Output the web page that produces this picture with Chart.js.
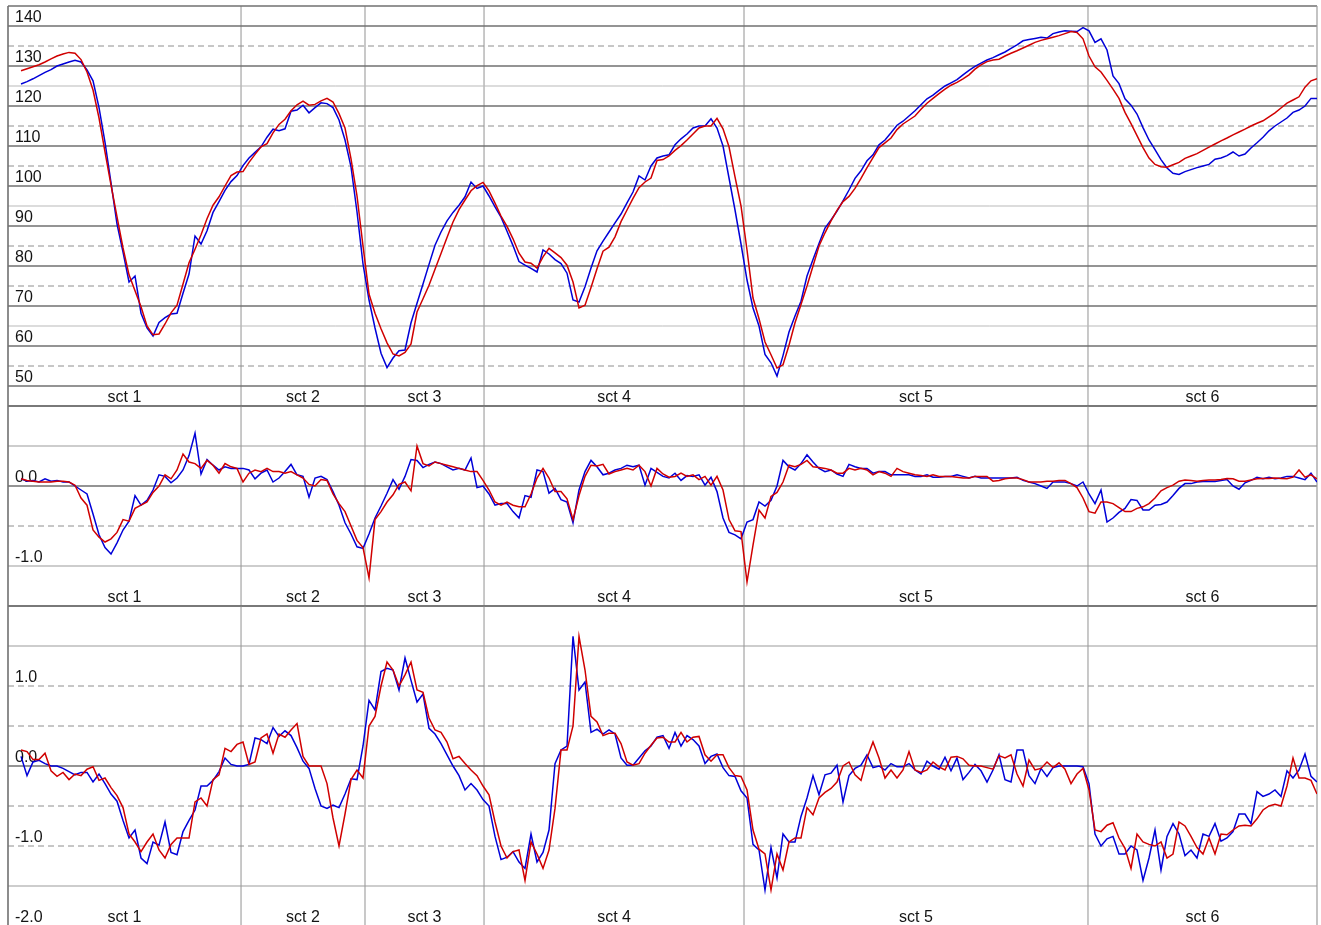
<!DOCTYPE html>
<html>
<head>
<meta charset="utf-8">
<script src="https://cdn.jsdelivr.net/npm/chart.js@4.4.0/dist/chart.umd.min.js"></script>
<style>
html,body{margin:0;padding:0;background:#ffffff;overflow:hidden;width:1321px;height:925px;}
canvas{position:absolute;left:0;}
</style>
</head>
<body>
<canvas id="c1" width="1321" height="410" style="top:0px"></canvas>
<canvas id="c2" width="1321" height="208" style="top:402px"></canvas>
<canvas id="c3" width="1321" height="328" style="top:602px"></canvas>
<script>
// ---------- DATA ----------
const sections = ['sct 1', 'sct 2', 'sct 3', 'sct 4', 'sct 5', 'sct 6'];
// section boundaries in sample-index units
const sectionBounds = [-2.17, 36.67, 57.33, 77.17, 120.5, 177.83, 216];

// panel 1 (level)
const p1Ticks = [140, 130, 120, 110, 100, 90, 80, 70, 60, 50];
const p1TickLabels = ['140', '130', '120', '110', '100', '90', '80', '70', '60', '50'];
const p1Red = [
128.8,129.3,129.8,130.3,131.0,131.8,132.5,133.0,133.4,133.2,
131.6,128.5,124.0,117.0,108.5,100.2,92.3,84.5,77.8,73.8,
69.8,65.0,62.8,63.0,65.5,68.3,70.2,75.5,80.8,84.2,
87.8,91.8,95.2,97.3,100.0,102.6,103.5,103.6,105.9,107.9,
109.8,110.6,113.3,115.4,116.7,118.8,120.3,121.2,120.2,120.4,
121.3,121.9,121.0,118.1,114.5,106.8,97.5,85.0,73.0,68.2,
64.3,60.8,58.0,57.5,58.4,60.5,68.5,71.8,75.2,79.2,
83.1,87.1,91.0,94.1,96.5,98.8,100.1,100.9,98.8,95.7,
92.5,89.9,86.8,83.2,81.0,80.7,79.5,82.3,84.4,83.3,
82.1,80.2,76.0,69.5,70.2,74.6,79.3,83.7,84.7,87.3,
91.1,94.0,96.9,99.6,101.0,102.0,106.4,106.6,107.5,108.9,
110.1,111.5,113.0,114.5,115.0,115.0,116.9,114.3,109.8,102.3,
95.0,84.0,72.0,66.8,61.0,57.8,54.5,55.3,60.2,65.8,
70.4,75.0,80.0,85.0,88.3,91.3,93.9,96.1,97.4,99.4,
101.9,104.6,107.1,109.6,110.8,112.0,114.1,115.5,116.5,117.5,
119.2,120.7,121.9,123.1,124.2,125.2,125.9,126.8,127.8,129.2,
130.3,131.1,131.5,131.7,132.5,133.2,133.8,134.5,135.2,135.9,
136.4,136.8,137.2,137.6,138.1,138.6,138.4,136.8,132.5,129.8,
128.5,126.4,124.2,121.9,118.4,115.6,112.6,109.6,107.0,105.4,
104.8,104.7,105.3,105.9,106.9,107.5,108.1,108.9,109.7,110.5,
111.3,112.0,112.8,113.5,114.2,115.0,115.7,116.3,117.3,118.3,
119.5,120.7,121.5,122.3,124.7,126.3,126.8
];
const p1Blue = [
125.5,126.1,126.8,127.6,128.4,129.1,130.0,130.5,131.0,131.4,
131.0,129.0,126.3,119.6,110.9,100.8,90.5,83.5,76.0,77.5,
68.2,64.5,62.5,65.9,67.1,68.0,68.2,73.2,78.0,87.5,
85.5,88.8,93.4,96.1,98.9,101.1,102.6,105.1,107.0,108.4,
109.8,112.2,114.2,113.8,114.3,118.7,119.0,120.2,118.3,119.6,
120.8,120.6,119.6,116.5,111.5,104.8,93.5,80.5,71.5,64.5,
58.2,54.6,57.0,58.8,59.0,65.8,70.7,75.5,80.4,85.2,
88.5,91.3,93.4,95.2,97.3,101.0,99.4,100.0,97.5,94.8,
92.2,88.7,85.1,81.1,80.2,79.4,78.5,84.0,83.0,81.6,
80.6,78.2,71.5,71.0,74.8,79.5,83.8,86.2,88.5,90.8,
93.0,95.8,98.5,102.5,101.5,105.0,107.0,107.5,107.8,110.3,
111.8,113.0,114.5,115.0,115.0,116.8,114.5,110.0,102.0,94.0,
85.5,76.5,69.5,65.0,57.9,55.8,52.5,57.6,63.5,67.5,
71.2,77.5,81.6,85.6,89.5,91.5,93.7,96.3,99.0,101.9,
103.8,106.3,107.8,110.3,111.5,113.3,115.2,116.2,117.5,118.8,
120.3,121.8,122.7,123.9,125.0,125.8,126.6,127.8,128.9,129.9,
130.7,131.5,132.1,132.8,133.5,134.4,135.3,136.3,136.6,136.9,
137.2,137.0,138.1,138.5,138.8,138.7,138.6,139.6,138.8,135.9,
136.8,134.0,127.5,125.6,121.8,120.2,118.0,114.6,111.5,109.1,
106.6,104.5,103.2,102.9,103.6,104.1,104.6,105.0,105.4,106.7,
107.0,107.6,108.5,107.5,108.0,109.5,110.8,112.2,113.8,115.0,
116.0,117.0,118.4,119.0,120.0,121.9,121.9
];

// panel 2
const p2Ticks = [0, -1];
const p2TickLabels = ['0.0', '-1.0'];
const p2Red = [
0.09,0.07,0.06,0.05,0.05,0.05,0.06,0.06,0.05,0.01,
-0.15,-0.24,-0.55,-0.64,-0.70,-0.66,-0.58,-0.42,-0.44,-0.28,
-0.24,-0.20,-0.08,0.00,0.14,0.09,0.20,0.40,0.30,0.28,
0.22,0.32,0.26,0.16,0.28,0.24,0.22,0.05,0.16,0.20,
0.18,0.22,0.18,0.18,0.16,0.18,0.14,0.10,0.02,0.00,
0.08,0.07,-0.10,-0.22,-0.32,-0.50,-0.68,-0.77,-1.15,-0.42,
-0.32,-0.20,-0.11,0.02,0.05,-0.06,0.50,0.28,0.25,0.30,
0.28,0.26,0.24,0.22,0.20,0.18,0.18,0.07,-0.05,-0.20,
-0.24,-0.20,-0.24,-0.26,-0.26,-0.10,0.10,0.22,0.10,-0.07,
-0.07,-0.16,-0.42,-0.12,0.12,0.26,0.25,0.27,0.15,0.18,
0.20,0.22,0.20,0.26,0.18,0.00,0.22,0.15,0.11,0.12,
0.16,0.12,0.14,0.08,0.12,0.01,0.12,-0.05,-0.42,-0.56,
-0.57,-1.20,-0.74,-0.30,-0.40,-0.13,-0.08,0.05,0.26,0.24,
0.27,0.32,0.24,0.23,0.22,0.20,0.16,0.16,0.22,0.20,
0.22,0.20,0.14,0.18,0.16,0.12,0.22,0.18,0.16,0.14,
0.13,0.12,0.14,0.12,0.12,0.12,0.11,0.10,0.10,0.12,
0.12,0.12,0.06,0.07,0.09,0.10,0.10,0.08,0.05,0.05,
0.05,0.06,0.06,0.07,0.07,0.03,-0.02,-0.15,-0.32,-0.34,
-0.20,-0.20,-0.22,-0.27,-0.32,-0.32,-0.28,-0.26,-0.22,-0.15,
-0.06,-0.02,0.01,0.06,0.075,0.07,0.06,0.07,0.075,0.075,
0.08,0.095,0.09,0.06,0.06,0.075,0.09,0.095,0.095,0.10,
0.095,0.09,0.11,0.20,0.11,0.14,0.09
];
const p2Blue = [
0.09,0.06,0.07,0.05,0.09,0.06,0.07,0.05,0.05,0.00,
-0.05,-0.10,-0.35,-0.61,-0.77,-0.85,-0.71,-0.55,-0.44,-0.12,
-0.24,-0.18,-0.05,0.14,0.12,0.04,0.10,0.20,0.38,0.66,
0.15,0.33,0.26,0.20,0.24,0.22,0.22,0.22,0.20,0.09,
0.16,0.20,0.05,0.10,0.18,0.27,0.14,0.12,-0.14,0.10,
0.12,0.08,-0.07,-0.24,-0.46,-0.60,-0.76,-0.78,-0.60,-0.40,
-0.25,-0.09,0.08,-0.04,0.12,0.33,0.32,0.23,0.27,0.30,
0.28,0.24,0.20,0.22,0.20,0.35,-0.02,0.00,-0.10,-0.24,
-0.22,-0.22,-0.32,-0.40,-0.12,-0.14,0.20,0.18,-0.09,-0.03,
-0.17,-0.20,-0.46,-0.05,0.18,0.32,0.24,0.14,0.16,0.20,
0.22,0.26,0.24,0.26,0.01,0.22,0.17,0.12,0.10,0.16,
0.07,0.13,0.12,0.14,0.01,0.11,-0.07,-0.40,-0.58,-0.61,
-0.66,-0.45,-0.42,-0.20,-0.25,-0.18,0.00,0.32,0.24,0.20,
0.28,0.39,0.30,0.22,0.18,0.20,0.15,0.12,0.27,0.24,
0.22,0.22,0.16,0.18,0.18,0.14,0.14,0.14,0.14,0.12,
0.12,0.14,0.11,0.11,0.12,0.12,0.14,0.12,0.10,0.12,
0.10,0.10,0.10,0.10,0.10,0.10,0.11,0.07,0.05,0.03,
0.00,-0.03,0.05,0.05,0.05,0.03,0.00,0.05,-0.10,-0.22,
-0.05,-0.45,-0.40,-0.33,-0.28,-0.17,-0.18,-0.30,-0.30,-0.24,
-0.23,-0.20,-0.12,-0.03,0.03,0.03,0.05,0.055,0.055,0.055,
0.07,0.08,0.00,-0.04,0.04,0.07,0.11,0.09,0.11,0.09,
0.10,0.12,0.12,0.10,0.08,0.16,0.05
];

// panel 3
const p3Ticks = [1, 0, -1, -2];
const p3TickLabels = ['1.0', '0.0', '-1.0', '-2.0'];
const p3Red = [
0.20,0.18,0.08,0.08,0.16,-0.06,-0.13,-0.08,-0.17,-0.10,
-0.12,-0.04,-0.01,-0.18,-0.15,-0.27,-0.37,-0.52,-0.85,-0.95,
-1.07,-0.95,-0.85,-1.05,-1.15,-0.98,-0.90,-0.90,-0.90,-0.45,
-0.40,-0.50,-0.17,-0.11,0.22,0.18,0.27,0.30,0.02,0.05,
0.35,0.40,0.16,0.40,0.36,0.45,0.53,0.12,0.00,0.00,
0.00,-0.22,-0.65,-1.00,-0.60,-0.17,-0.05,-0.15,0.50,0.62,
1.00,1.30,1.20,1.00,1.14,1.30,0.95,0.92,0.60,0.45,
0.42,0.30,0.09,0.12,0.03,-0.05,-0.12,-0.25,-0.36,-0.70,
-1.00,-1.15,-1.07,-1.05,-1.43,-0.95,-1.10,-1.28,-1.05,-0.53,
0.20,0.20,0.50,1.62,1.20,0.62,0.55,0.38,0.41,0.41,
0.28,0.05,0.01,0.03,0.16,0.26,0.35,0.36,0.30,0.30,
0.42,0.30,0.36,0.37,0.14,0.06,0.14,0.14,-0.02,-0.12,
-0.13,-0.30,-0.80,-1.04,-1.10,-1.55,-1.10,-1.30,-0.95,-0.90,
-0.90,-0.52,-0.61,-0.40,-0.33,-0.28,-0.20,0.00,0.05,-0.11,
-0.18,0.10,0.30,0.10,-0.15,-0.05,-0.15,-0.05,0.18,-0.05,
-0.08,-0.05,0.05,-0.01,-0.05,0.11,0.12,0.09,0.01,0.00,
0.00,-0.02,-0.04,0.13,0.10,0.14,-0.10,-0.25,0.075,-0.05,
-0.03,0.05,-0.02,0.04,-0.04,-0.22,-0.10,-0.03,-0.30,-0.80,
-0.82,-0.74,-0.71,-0.90,-1.03,-1.28,-0.85,-0.95,-0.98,-1.00,
-0.95,-1.15,-1.10,-0.70,-0.75,-0.88,-1.02,-1.10,-0.90,-1.10,
-0.85,-0.86,-0.80,-0.75,-0.74,-0.75,-0.66,-0.55,-0.50,-0.48,
-0.50,-0.25,0.10,-0.15,-0.15,-0.18,-0.35
];
const p3Blue = [
0.12,-0.12,0.05,0.07,0.03,0.00,0.00,-0.03,-0.07,-0.11,
-0.08,-0.08,-0.20,-0.10,-0.22,-0.35,-0.44,-0.68,-0.90,-0.80,
-1.15,-1.22,-0.95,-0.99,-0.70,-1.08,-1.11,-0.82,-0.68,-0.55,
-0.25,-0.25,-0.18,-0.07,0.10,0.02,0.00,0.00,0.02,0.35,
0.33,0.28,0.48,0.37,0.44,0.38,0.23,0.06,-0.03,-0.28,
-0.50,-0.53,-0.49,-0.52,-0.35,-0.16,-0.17,0.25,0.82,0.70,
1.18,1.22,1.20,0.95,1.35,1.07,0.80,0.90,0.47,0.40,
0.28,0.14,0.00,-0.12,-0.30,-0.22,-0.30,-0.42,-0.50,-0.88,
-1.17,-1.14,-1.07,-1.20,-1.28,-0.85,-1.20,-1.08,-0.80,0.03,
0.20,0.25,1.62,0.95,1.05,0.42,0.46,0.40,0.45,0.40,
0.10,0.01,0.01,0.10,0.19,0.25,0.36,0.38,0.22,0.42,
0.25,0.38,0.33,0.25,0.03,0.12,0.15,-0.02,-0.12,-0.13,
-0.31,-0.40,-0.98,-1.05,-1.55,-1.02,-1.40,-0.85,-0.95,-0.95,
-0.63,-0.40,-0.12,-0.36,-0.11,-0.09,0.01,-0.45,-0.12,-0.03,
0.01,0.14,-0.02,0.00,-0.05,0.03,-0.01,-0.01,0.03,-0.05,
-0.10,0.06,0.00,-0.04,0.11,-0.06,0.10,-0.17,-0.08,0.02,
-0.06,-0.20,-0.05,0.14,-0.17,-0.20,0.20,0.20,-0.12,-0.22,
-0.03,-0.13,-0.02,0.00,0.00,0.00,0.00,-0.01,-0.22,-0.85,
-1.00,-0.91,-0.88,-1.10,-1.10,-1.00,-1.05,-1.43,-1.15,-0.80,
-1.30,-0.88,-0.72,-0.85,-1.12,-1.05,-1.15,-0.85,-0.88,-0.72,
-0.94,-0.90,-0.82,-0.60,-0.60,-0.72,-0.32,-0.38,-0.35,-0.30,
-0.38,-0.06,-0.15,-0.05,0.15,-0.13,-0.20
];

// ---------- STYLES ----------
const RED = '#d00000';
const BLUE = '#0000d8';
const STY = {
  dark:  { color: '#707070', width: 1.6, dash: [] },
  mid:   { color: '#9c9c9c', width: 1.2, dash: [] },
  light: { color: '#b9b9b9', width: 1.0, dash: [] },
  dash:  { color: '#8e8e8e', width: 1.0, dash: [6, 4] },
  vert:  { color: '#b7b7b7', width: 1.5, dash: [] }
};
const FONT = '16px "Liberation Sans", Arial, Helvetica, sans-serif';

function decorPlugin(cfg) {
  return {
    id: 'decor',
    beforeDatasetsDraw(chart) {
      const ctx = chart.ctx, a = chart.chartArea;
      const xs = chart.scales.x, ys = chart.scales.y;
      const line = (x1, y1, x2, y2, st) => {
        ctx.save();
        ctx.strokeStyle = st.color; ctx.lineWidth = st.width; ctx.setLineDash(st.dash);
        ctx.beginPath(); ctx.moveTo(x1, y1); ctx.lineTo(x2, y2); ctx.stroke();
        ctx.restore();
      };
      sectionBounds.slice(1, -1).forEach(b => {
        const px = xs.getPixelForValue(b);
        line(px, a.top, px, a.bottom, STY.vert);
      });
      cfg.grid.forEach(g => g.values.forEach(v => {
        const py = ys.getPixelForValue(v);
        line(a.left, py, a.right, py, STY[g.style]);
      }));
      line(a.left, a.top, a.left, a.bottom, STY.dark);
      line(a.right, a.top, a.right, a.bottom, STY.mid);
      ctx.save();
      ctx.font = FONT; ctx.fillStyle = '#141414';
      ctx.textAlign = 'left'; ctx.textBaseline = 'alphabetic';
      cfg.ticks.forEach((v, k) => ctx.fillText(cfg.tickLabels[k], a.left + 7, ys.getPixelForValue(v) - 4));
      ctx.textAlign = 'center';
      sections.forEach((s, k) => {
        const cx = xs.getPixelForValue((sectionBounds[k] + sectionBounds[k + 1]) / 2);
        ctx.fillText(s, cx, a.bottom - 4);
      });
      ctx.restore();
    }
  };
}

function makePanel(id, red, blue, cfg) {
  const pts = arr => arr.map((v, i) => ({ x: i, y: v }));
  new Chart(document.getElementById(id), {
    type: 'line',
    data: {
      datasets: [
        { data: pts(red), borderColor: RED, borderWidth: 1.5, pointRadius: 0, tension: 0, fill: false },
        { data: pts(blue), borderColor: BLUE, borderWidth: 1.5, pointRadius: 0, tension: 0, fill: false }
      ]
    },
    options: {
      responsive: false,
      animation: false,
      events: [],
      layout: { padding: cfg.padding },
      plugins: { legend: { display: false }, tooltip: { enabled: false }, title: { display: false } },
      scales: {
        x: { type: 'linear', min: sectionBounds[0], max: sectionBounds[sectionBounds.length - 1], display: false },
        y: { type: 'linear', min: cfg.yMin, max: cfg.yMax, display: false }
      }
    },
    plugins: [decorPlugin(cfg)]
  });
}

makePanel('c1', p1Red, p1Blue, {
  padding: { left: 8, right: 4, top: 6, bottom: 4 },
  yMin: 45, yMax: 145,
  ticks: p1Ticks, tickLabels: p1TickLabels,
  grid: [
    { style: 'light', values: [125, 95, 65] },
    { style: 'dash', values: [135, 115, 105, 85, 75, 55] },
    { style: 'dark', values: [145, 140, 130, 120, 110, 100, 90, 80, 70, 60, 50, 45] }
  ]
});
makePanel('c2', p2Red, p2Blue, {
  padding: { left: 8, right: 4, top: 4, bottom: 4 },
  yMin: -1.5, yMax: 1.0,
  ticks: p2Ticks, tickLabels: p2TickLabels,
  grid: [
    { style: 'mid', values: [0.5, -1.0] },
    { style: 'dash', values: [-0.5] },
    { style: 'dark', values: [1.0, 0, -1.5] }
  ]
});
makePanel('c3', p3Red, p3Blue, {
  padding: { left: 8, right: 4, top: 4, bottom: 4 },
  yMin: -2.0, yMax: 2.0,
  ticks: p3Ticks, tickLabels: p3TickLabels,
  grid: [
    { style: 'mid', values: [1.5, -1.5] },
    { style: 'dash', values: [1.0, 0.5, -0.5, -1.0] },
    { style: 'dark', values: [2.0, 0, -2.0] }
  ]
});
</script>
</body>
</html>
